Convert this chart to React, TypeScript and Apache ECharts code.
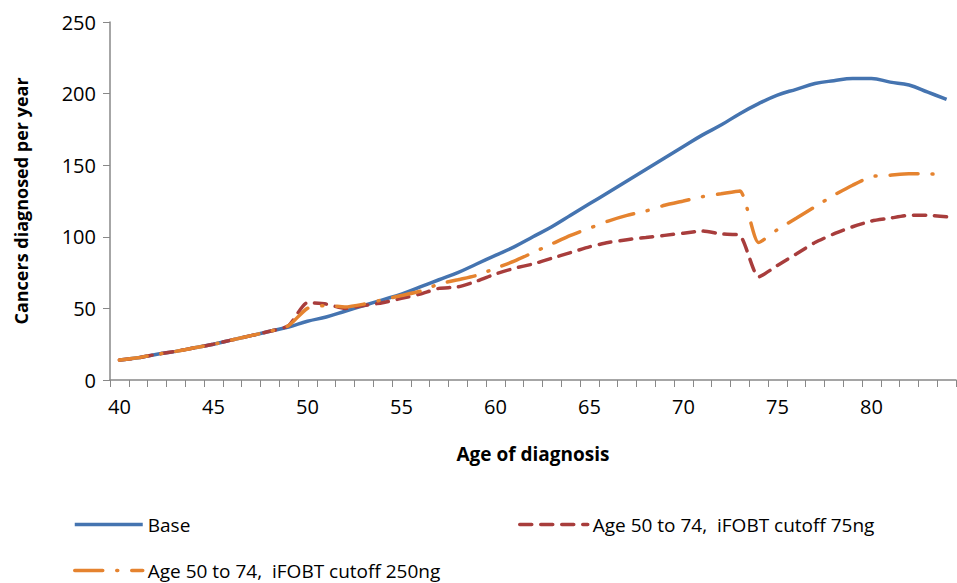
import { useEffect, useRef } from 'react'
import * as echarts from 'echarts'

// ages 40..84
const AGES = Array.from({ length: 45 }, (_, i) => String(40 + i))

const BASE = [14, 15.5, 18, 20, 22.5, 25, 28, 31, 34, 37, 41, 44, 48, 52, 56, 60, 65, 70, 75, 81, 87, 93, 100, 107, 115, 123, 131, 139, 147, 155, 163, 171, 178, 186, 193, 199, 203, 207, 209, 210.5, 210.5, 208, 206, 201, 196]
const CUT75 = [14, 15.5, 18, 20, 22.5, 25, 28, 31, 34, 38, 54, 53, 50, 52, 54, 57, 60, 64, 65, 69, 74, 78, 81, 85, 89, 93, 96, 98, 99.5, 101, 102.5, 104, 102, 101, 72, 80, 88, 96, 102, 107, 111, 113, 115, 115, 114]
const CUT250 = [14, 15.5, 18, 20, 22.5, 25, 28, 31, 34, 38, 50, 52, 51, 53, 56, 59, 62, 67, 70, 73, 78, 83, 89, 95, 101, 106, 111, 115, 118, 122, 125, 128, 130, 132, 96, 105, 113, 121, 129, 136, 142, 143, 144, 144, 143]

const FONT = "'Open Sans', 'Liberation Sans', sans-serif"

export default function App() {
  const ref = useRef<HTMLDivElement>(null)

  useEffect(() => {
    if (!ref.current) return
    const chart = echarts.init(ref.current, undefined, { renderer: 'svg' })
    const legendText = { fontSize: 19, color: '#000', fontFamily: FONT }
    const legendBase = {
      itemWidth: 68, itemHeight: 10, itemGap: 8, textStyle: legendText,
      itemStyle: { opacity: 0 }, lineStyle: { width: 3.5 },
    }
    chart.setOption({
      animation: false,
      backgroundColor: '#fff',
      grid: { left: 110, right: 1, top: 22, bottom: 203 },
      legend: [
        { ...legendBase, data: ['Base'], left: 68, top: 510 },
        { ...legendBase, data: ['Age 50 to 74,  iFOBT cutoff 75ng'], left: 513, top: 510 },
        { ...legendBase, data: ['Age 50 to 74,  iFOBT cutoff 250ng'], left: 68, top: 556 },
      ],
      xAxis: {
        type: 'category',
        data: AGES,
        boundaryGap: true,
        name: 'Age of diagnosis',
        nameLocation: 'middle',
        nameGap: 64,
        nameTextStyle: { fontSize: 19, fontWeight: 'bold', color: '#000', fontFamily: FONT },
        axisLine: { lineStyle: { color: '#888', width: 1.5 } },
        axisTick: { show: true, interval: 0, length: 7, lineStyle: { color: '#888' } },
        axisLabel: { interval: 4, fontSize: 20, color: '#000', fontFamily: FONT, margin: 16 },
      },
      yAxis: {
        type: 'value',
        min: 0,
        max: 250,
        interval: 50,
        name: 'Cancers diagnosed per year',
        nameLocation: 'middle',
        nameGap: 80,
        nameTextStyle: { fontSize: 18, fontWeight: 'bold', color: '#000', fontFamily: FONT },
        axisLine: { show: true, lineStyle: { color: '#888', width: 1.5 } },
        axisTick: { show: true, length: 7, lineStyle: { color: '#888' } },
        splitLine: { show: false },
        axisLabel: { fontSize: 20, color: '#000', fontFamily: FONT, margin: 14 },
      },
      series: [
        {
          name: 'Base', type: 'line', data: BASE, smooth: 0.4, symbol: 'none',
          lineStyle: { color: '#4574B0', width: 3.5 }, itemStyle: { color: '#4574B0' },
        },
        {
          name: 'Age 50 to 74,  iFOBT cutoff 75ng', type: 'line', data: CUT75, smooth: 0.2, symbol: 'none',
          lineStyle: { color: '#A83D3C', width: 3.5, type: [12, 9], cap: 'round' }, itemStyle: { color: '#A83D3C' },
        },
        {
          name: 'Age 50 to 74,  iFOBT cutoff 250ng', type: 'line', data: CUT250, smooth: 0.2, symbol: 'none',
          lineStyle: { color: '#E5832F', width: 3.5, type: [28, 14, 1, 14], cap: 'round' }, itemStyle: { color: '#E5832F' },
          z: 3,
        },
      ],
    })
    return () => chart.dispose()
  }, [])

  return (
    <div style={{ position: 'absolute', left: 0, top: 0, width: 957, height: 583, background: '#fff' }}>
      <div ref={ref} style={{ width: 957, height: 583 }} />
    </div>
  )
}
